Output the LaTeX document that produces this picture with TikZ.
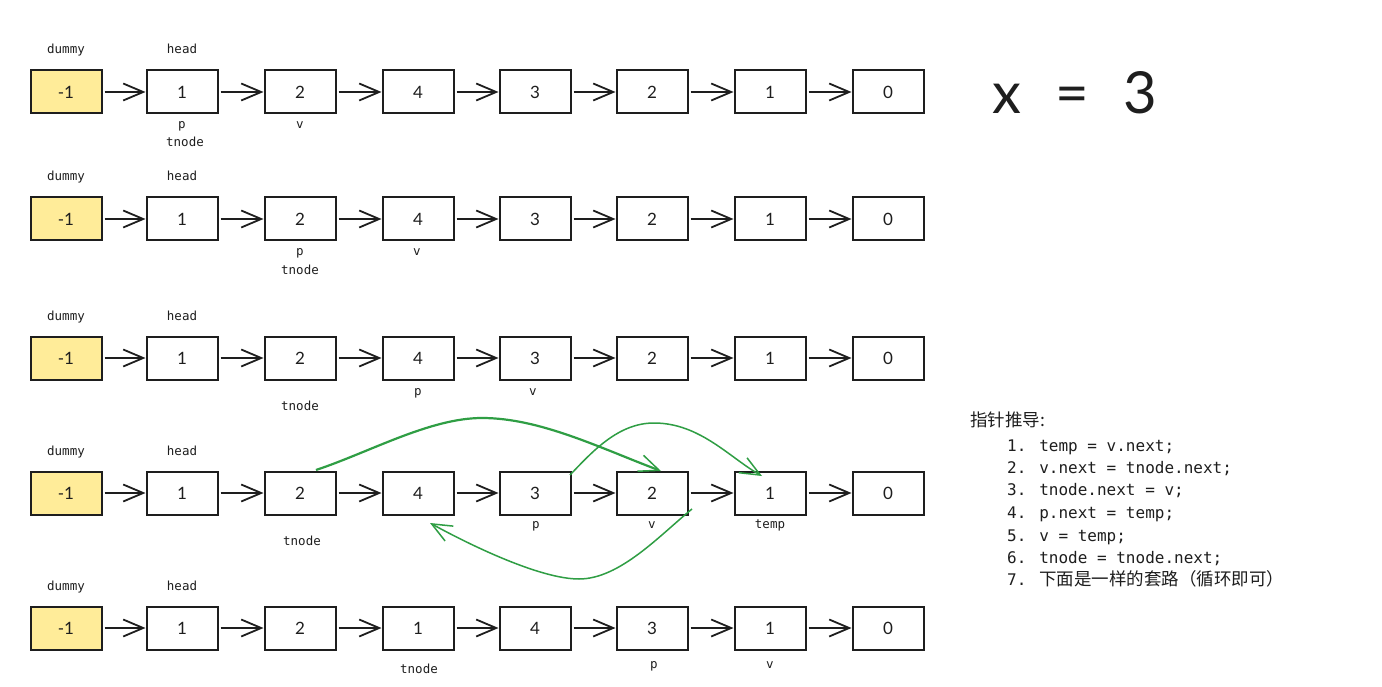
\documentclass[tikz,border=0pt]{standalone}
\usepackage{fontspec}
\setmainfont{Lato}
\newfontfamily\labfont{DejaVu Sans Mono}
\newfontfamily\cjk{Noto Sans CJK SC}
\usetikzlibrary{arrows.meta}
\definecolor{ink}{HTML}{1E1E1E}
\definecolor{grn}{HTML}{2F9E44}
\definecolor{yel}{HTML}{FFEC99}
\tikzset{
  cell/.style={draw=ink, line width=2pt, fill=white, minimum width=71pt, minimum height=43pt,
    inner sep=0pt, font=\fontsize{17}{19}\selectfont, text=ink},
  dcell/.style={cell, fill=yel},
  lnk/.style={draw=ink, line width=1.8pt, shorten <=2pt,
    -{Straight Barb[length=20pt,width=17pt,line width=1.8pt]}},
  lab/.style={font=\labfont\fontsize{12.5}{14}\selectfont, text=ink, inner sep=0pt,
    text height=9pt, text depth=3pt},
  codeline/.style={anchor=west, font=\labfont\fontsize{16}{18}\selectfont, text=ink,
    inner sep=0pt, text height=12pt, text depth=4pt},
  gline/.style={draw=grn, line width=1.5pt,
    -{Straight Barb[length=20pt,width=17pt,line width=1.5pt]}},
}
\begin{document}
\begin{tikzpicture}[x=1pt,y=-1pt]
\useasboundingbox (0,0) rectangle (1382,687);
\fill[white] (0,0) rectangle (1382,687);

% rows of cells
\foreach \r/\yy/\vals in {1/92/{1,2,4,3,2,1,0},2/219/{1,2,4,3,2,1,0},3/358/{1,2,4,3,2,1,0},4/493/{1,2,4,3,2,1,0},5/628/{1,2,1,4,3,1,0}}{
  \node[dcell] (r\r-1) at (66,\yy) {-1};
  \foreach \v [count=\c from 2] in \vals {
    \pgfmathsetmacro\xx{{66,182,300,418,535,652,770,888}[\c-1]}
    \node[cell] (r\r-\c) at (\xx,\yy) {\v};
  }
  \foreach \c [remember=\c as \p (initially 1)] in {2,...,8} {
    \draw[lnk] (r\r-\p.east) -- (r\r-\c.west);
  }
  \node[lab] (dummy\r) at (66,\yy-41) {dummy};
  \node[lab] (head\r) at (182,\yy-41) {head};
}

% pointer labels
\node[lab] (p1) at (182,126) {p};
\node[lab] (t1) at (185,144) {tnode};
\node[lab] (v1) at (300,126) {v};
\node[lab] (p2) at (300,252) {p};
\node[lab] (t2) at (300,271) {tnode};
\node[lab] (v2) at (417,252) {v};
\node[lab] (t3) at (300,407) {tnode};
\node[lab] (p3) at (418,392) {p};
\node[lab] (v3) at (533,392) {v};
\node[lab] (t4) at (302,542) {tnode};
\node[lab] (p4) at (536,525) {p};
\node[lab] (v4) at (652,525) {v};
\node[lab] (temp4) at (770,525) {temp};
\node[lab] (t5) at (419,670) {tnode};
\node[lab] (p5) at (654,665) {p};
\node[lab] (v5) at (770,665) {v};

% x = 3
\node[font=\fontsize{58}{60}\selectfont, text=ink, inner sep=0pt] (xeq) at (1075,93) {x\hspace{34pt}=\hspace{34pt}3};

% code
\node[anchor=west, font=\cjk\fontsize{17.5}{19}\selectfont, text=ink, inner sep=0pt,
  text height=12pt, text depth=4pt] (title) at (970,422) {指针推导:};
\node[codeline] (c1) at (1007,447) {1. temp = v.next;};
\node[codeline] (c2) at (1007,469) {2. v.next = tnode.next;};
\node[codeline] (c3) at (1007,491) {3. tnode.next = v;};
\node[codeline] (c4) at (1007,514) {4. p.next = temp;};
\node[codeline] (c5) at (1007,537) {5. v = temp;};
\node[codeline] (c6) at (1007,559) {6. tnode = tnode.next;};
\node[codeline] (c7) at (1007,581) {7. {\cjk\fontsize{17.5}{19}\selectfont 下面是一样的套路（循环即可）}};

% green curves in row 4
\coordinate (g1s) at (316,470);
\coordinate (g1e) at (661,471);
\draw[gline, line width=2.2pt] (g1s) .. controls (370,452) and (430,418) .. (482,418)
   .. controls (540,418) and (600,448) .. (g1e);
\coordinate (g2s) at (570,475);
\coordinate (g2e) at (762,476);
\draw[gline] (g2s) .. controls (592,452) and (618,423) .. (654,423)
   .. controls (700,423) and (730,458) .. (g2e);
\coordinate (g3s) at (692,509);
\coordinate (g3e) at (430,523);
\draw[gline] (g3s) .. controls (660,535) and (620,579) .. (579,579)
   .. controls (540,579) and (470,545) .. (g3e);
\end{tikzpicture}
\end{document}
